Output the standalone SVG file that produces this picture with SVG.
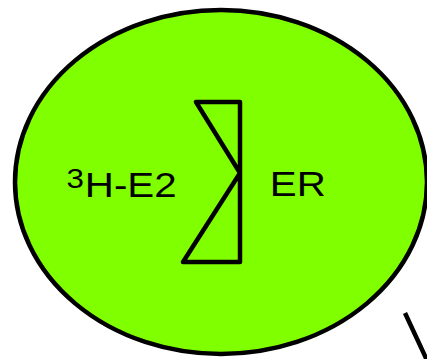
<svg xmlns="http://www.w3.org/2000/svg" width="427" height="359" viewBox="0 0 427 359">
<style>
.ln{fill:none;stroke:#000;stroke-width:4.5;stroke-linejoin:round;stroke-linecap:round}
.t{font-family:"Liberation Sans",Arial,sans-serif;fill:#000}
</style>
<rect width="427" height="359" fill="#fff"/>
<g id="cell">
<ellipse cx="221" cy="182" rx="206" ry="172" fill="#80ff00" stroke="#000" stroke-width="4.5"/>
</g>
<g id="receptor">
<path class="ln" d="M196,102 L240,102 L240,262 L183,262 L240,173 Z"/>
</g>
<g id="labels" transform="scale(1.12,1)">
<text class="t" x="59.5" y="188" font-size="28">3</text>
<text class="t" x="75.7" y="197.5" font-size="36">H-E2</text>
<text class="t" x="240.9" y="196" font-size="36">ER</text>
</g>
<g id="connectors">
<line x1="405" y1="313" x2="432" y2="371" stroke="#000" stroke-width="4.5"/>
</g>
</svg>
